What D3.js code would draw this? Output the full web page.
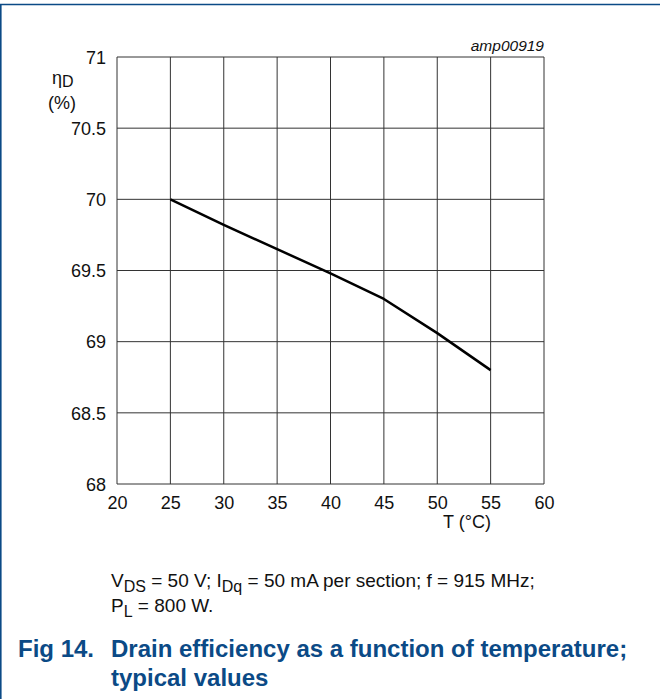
<!DOCTYPE html>
<html>
<head>
<meta charset="utf-8">
<script src="https://cdn.jsdelivr.net/npm/d3@7"></script>
<style>
  body { margin: 0; background: #fff; }
  svg { display: block; font-family: "Liberation Sans", Arial, sans-serif; }
</style>
</head>
<body>
<svg id="canvas" width="660" height="699"></svg>
<script>
// data
const temps = [25, 30, 35, 40, 45, 50, 55];
const efficiency = [70.0, 69.82, 69.65, 69.48, 69.3, 69.06, 68.8];
const xTicks = [20, 25, 30, 35, 40, 45, 50, 55, 60];
const yTicks = [68, 68.5, 69, 69.5, 70, 70.5, 71];

const svg = d3.select("#canvas");
const blue = "#0b4a86";

// page frame (top + left rule)
svg.append("line").attr("x1", 0).attr("x2", 660).attr("y1", 4.5).attr("y2", 4.5)
  .attr("stroke", blue).attr("stroke-width", 1.6);
svg.append("line").attr("x1", 0.8).attr("x2", 0.8).attr("y1", 4).attr("y2", 699)
  .attr("stroke", blue).attr("stroke-width", 1.6);

const x = d3.scaleLinear().domain([20, 60]).range([117, 544]);
const y = d3.scaleLinear().domain([68, 71]).range([484, 57]);

// grid
const grid = svg.append("g").attr("stroke", "#333").attr("stroke-width", 1);
grid.selectAll(".vx").data(xTicks).join("line")
  .attr("x1", d => x(d)).attr("x2", d => x(d))
  .attr("y1", y(71)).attr("y2", y(68));
grid.selectAll(".hy").data(yTicks).join("line")
  .attr("x1", x(20)).attr("x2", x(60))
  .attr("y1", d => y(d)).attr("y2", d => y(d));

// axes labels via d3 axes, lines hidden
const xAxis = svg.append("g").attr("transform", `translate(0,${y(68)})`)
  .call(d3.axisBottom(x).tickValues(xTicks).tickSize(0).tickPadding(6).tickFormat(d3.format("d")));
const yAxis = svg.append("g").attr("transform", `translate(${x(20)},0)`)
  .call(d3.axisLeft(y).tickValues(yTicks).tickSize(0).tickPadding(11).tickFormat(d => d));
[xAxis, yAxis].forEach(a => {
  a.select(".domain").remove();
  a.selectAll("text").attr("font-size", 18).attr("fill", "#111")
    .attr("font-family", "Liberation Sans, Arial, sans-serif");
});
yAxis.selectAll("text").attr("dy", "0.35em");
xAxis.selectAll("text").attr("dy", "1.05em");

// line
const line = d3.line().x((d, i) => x(temps[i])).y(d => y(d));
svg.append("path").datum(efficiency)
  .attr("fill", "none").attr("stroke", "#000").attr("stroke-width", 2.5)
  .attr("stroke-linejoin", "round")
  .attr("d", line);

// axis titles
const yt = svg.append("text").attr("x", 52).attr("y", 84).attr("font-size", 18).attr("fill", "#111");
yt.append("tspan").text("η");
yt.append("tspan").attr("dy", 3).attr("font-size", 16).text("D");
svg.append("text").attr("x", 48).attr("y", 109).attr("font-size", 18).attr("fill", "#111").text("(%)");

svg.append("text").attr("x", 467).attr("y", 528).attr("text-anchor", "middle")
  .attr("font-size", 18).attr("fill", "#111").text("T (°C)");

svg.append("text").attr("x", 544).attr("y", 51).attr("text-anchor", "end")
  .attr("font-size", 15.5).attr("font-style", "italic").attr("fill", "#111").text("amp00919");

// conditions note
const note1 = svg.append("text").attr("x", 111).attr("y", 587).attr("font-size", 19).attr("fill", "#111");
note1.append("tspan").text("V");
note1.append("tspan").attr("dy", 5).attr("font-size", 16).text("DS");
note1.append("tspan").attr("dy", -5).text(" = 50 V; I");
note1.append("tspan").attr("dy", 5).attr("font-size", 16).text("Dq");
note1.append("tspan").attr("dy", -5).text(" = 50 mA per section; f = 915 MHz;");
const note2 = svg.append("text").attr("x", 111).attr("y", 612).attr("font-size", 19).attr("fill", "#111");
note2.append("tspan").text("P");
note2.append("tspan").attr("dy", 5).attr("font-size", 16).text("L");
note2.append("tspan").attr("dy", -5).text(" = 800 W.");

// caption
const cap = svg.append("g").attr("fill", blue).attr("font-weight", "bold").attr("font-size", 24);
cap.append("text").attr("x", 18).attr("y", 657).text("Fig 14.");
cap.append("text").attr("x", 111).attr("y", 657).text("Drain efficiency as a function of temperature;");
cap.append("text").attr("x", 111).attr("y", 686).text("typical values");
</script>
</body>
</html>
